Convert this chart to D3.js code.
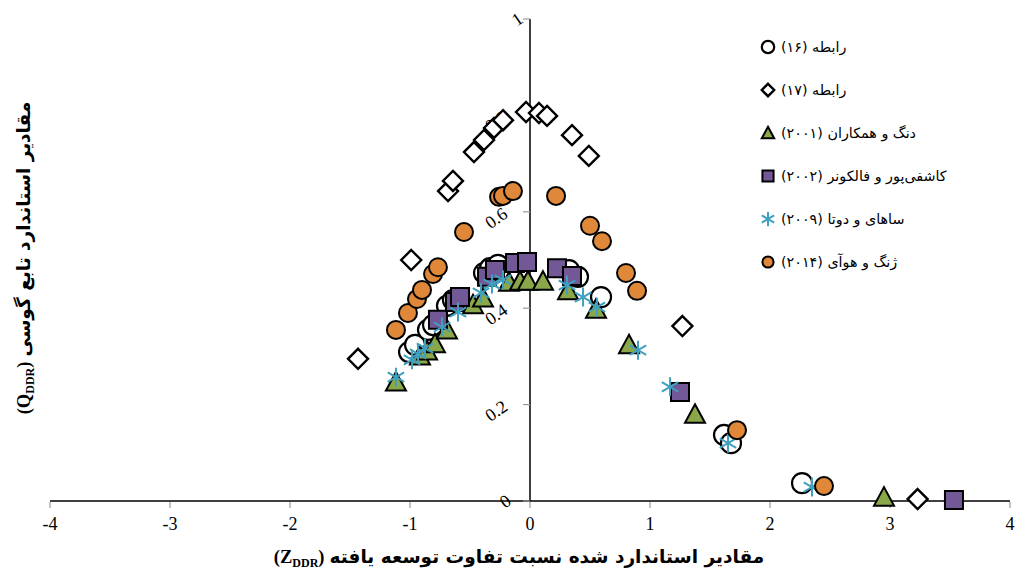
<!DOCTYPE html>
<html>
<head>
<meta charset="utf-8">
<script src="https://cdn.jsdelivr.net/npm/d3@7"></script>
<style>
  html, body { margin: 0; padding: 0; background: #fff; }
  svg { display: block; }
  .fa { font-family: "DejaVu Sans", "Noto Sans", sans-serif; }
  .num { font-family: "Liberation Serif", "DejaVu Serif", serif; }
</style>
</head>
<body>
<svg id="chart" width="1016" height="572"></svg>
<script>
// Standardized developed-discharge-ratio (Z) vs. Gaussian function (Q)
const eq16 = [
  [-1.008, 0.309], [-0.958, 0.324], [-0.85, 0.355], [-0.808, 0.365], [-0.692, 0.405],
  [-0.642, 0.417], [-0.383, 0.473], [-0.333, 0.483], [-0.267, 0.49], [0.325, 0.479],
  [0.4, 0.465], [0.592, 0.423], [1.617, 0.137], [1.675, 0.12], [2.267, 0.037]
];
const eq17 = [
  [-1.433, 0.295], [-0.99, 0.5], [-0.683, 0.643], [-0.642, 0.664], [-0.467, 0.724],
  [-0.383, 0.749], [-0.3, 0.774], [-0.225, 0.79], [-0.033, 0.807], [0.075, 0.805],
  [0.142, 0.799], [0.35, 0.759], [0.49, 0.716], [1.27, 0.363], [3.23, 0.004]
];
const deng2001 = [
  [-1.117, 0.247], [-0.917, 0.301], [-0.858, 0.311], [-0.792, 0.326], [-0.692, 0.355],
  [-0.475, 0.407], [-0.392, 0.421], [-0.175, 0.454], [-0.083, 0.456], [-0.017, 0.456],
  [0.108, 0.456], [0.317, 0.436], [0.55, 0.398], [0.825, 0.324], [1.375, 0.18], [2.95, 0.008]
];
const kashefipour2002 = [
  [-0.767, 0.376], [-0.625, 0.413], [-0.583, 0.423], [-0.358, 0.465], [-0.292, 0.479],
  [-0.125, 0.494], [-0.025, 0.496], [0.225, 0.483], [0.35, 0.467], [1.25, 0.226], [3.533, 0.002]
];
const sahay2009 = [
  [-1.117, 0.257], [-0.983, 0.293], [-0.933, 0.305], [-0.875, 0.317], [-0.733, 0.361],
  [-0.6, 0.392], [-0.408, 0.432], [-0.317, 0.45], [-0.225, 0.459], [0.308, 0.448],
  [0.442, 0.423], [0.558, 0.402], [0.9, 0.313], [1.167, 0.237], [1.65, 0.12], [2.35, 0.029]
];
const zeng2014 = [
  [-1.117, 0.355], [-1.017, 0.39], [-0.942, 0.419], [-0.9, 0.438], [-0.808, 0.471],
  [-0.767, 0.485], [-0.55, 0.558], [-0.258, 0.631], [-0.225, 0.633], [-0.142, 0.643],
  [0.217, 0.633], [0.5, 0.571], [0.6, 0.539], [0.8, 0.473], [0.892, 0.436],
  [1.725, 0.147], [2.45, 0.031]
];

const seriesNames = [
  "رابطه (۱۶)",
  "رابطه (۱۷)",
  "دنگ و همکاران (۲۰۰۱)",
  "کاشفی‌پور و فالکونر (۲۰۰۲)",
  "ساهای و دوتا (۲۰۰۹)",
  "ژنگ و هوآی (۲۰۱۴)"
];
const xTicks = [-4, -3, -2, -1, 0, 1, 2, 3, 4];
const yTicks = [0, 0.2, 0.4, 0.6, 0.8, 1];
const yTickLabels = ["0", "0.2", "0.4", "0.6", "0.8", "1"];

const svg = d3.select("#chart");
const x = d3.scaleLinear().domain([-4, 4]).range([50, 1010]);
const y = d3.scaleLinear().domain([0, 1]).range([501, 19]);

// Marker styles per series
const styles = [
  { data: eq16, shape: "circle", fill: "#ffffff", stroke: "#000", size: 10, sw: 2.2 },
  { data: eq17, shape: "diamond", fill: "#ffffff", stroke: "#000", size: 10, sw: 2.4 },
  { data: deng2001, shape: "triangle", fill: "#8aa84a", stroke: "#000", size: 10, sw: 2 },
  { data: kashefipour2002, shape: "square", fill: "#735898", stroke: "#000", size: 9, sw: 2 },
  { data: sahay2009, shape: "asterisk", fill: "none", stroke: "#3fa0c0", size: 9.5, sw: 2 },
  { data: zeng2014, shape: "circle", fill: "#e0883a", stroke: "#000", size: 9, sw: 2 }
];

function markerPath(shape, s) {
  switch (shape) {
    case "circle":
      return `M${s},0A${s},${s} 0 1,1 ${-s},0A${s},${s} 0 1,1 ${s},0Z`;
    case "diamond":
      return `M0,${-s}L${s},0L0,${s}L${-s},0Z`;
    case "triangle":
      return `M0,${-s}L${s},${s * 0.85}L${-s},${s * 0.85}Z`;
    case "square":
      return `M${-s},${-s}H${s}V${s}H${-s}Z`;
    case "asterisk": {
      const a = s, c = s * Math.cos(Math.PI / 6), d = s * Math.sin(Math.PI / 6);
      return `M0,${-a}V${a}M${-c},${-d}L${c},${d}M${-c},${d}L${c},${-d}`;
    }
  }
}

// Axes
const gx = svg.append("g").attr("transform", `translate(0,${y(0)})`);
gx.append("line").attr("x1", x(-4)).attr("x2", x(4)).attr("stroke", "#000").attr("stroke-width", 1.5);
gx.selectAll(".xt").data(xTicks).join("line")
  .attr("x1", d => x(d)).attr("x2", d => x(d)).attr("y1", 1).attr("y2", 7)
  .attr("stroke", "#999").attr("stroke-width", 1.2);
gx.selectAll(".xl").data(xTicks).join("text")
  .attr("class", "num")
  .attr("x", d => x(d)).attr("y", 29)
  .attr("text-anchor", "middle").attr("font-size", 18).attr("fill", "#000")
  .text(d => d);

const gy = svg.append("g").attr("transform", `translate(${x(0)},0)`);
gy.append("line").attr("y1", y(0)).attr("y2", y(1)).attr("stroke", "#000").attr("stroke-width", 1.5);
gy.selectAll(".yt").data(yTicks).join("line")
  .attr("x1", -7).attr("x2", 0).attr("y1", d => y(d)).attr("y2", d => y(d))
  .attr("stroke", "#999").attr("stroke-width", 1.2);
gy.selectAll(".yl").data(yTicks).join("text")
  .attr("class", "num")
  .attr("font-size", 18).attr("fill", "#000").attr("text-anchor", "middle")
  .attr("transform", (d, i) => {
    const len = yTickLabels[i].length;
    const dx = len > 1 ? -34 : (d === 0 ? -25 : -13);
    const dy = len > 1 ? 6 : 0;
    return `translate(${dx},${y(d) + dy}) rotate(-35)`;
  })
  .attr("dy", "0.35em")
  .text((d, i) => yTickLabels[i]);

// Data markers
styles.forEach(st => {
  svg.append("g").selectAll("path").data(st.data).join("path")
    .attr("transform", d => `translate(${x(d[0])},${y(d[1])})`)
    .attr("d", markerPath(st.shape, st.size))
    .attr("fill", st.fill).attr("stroke", st.stroke)
    .attr("stroke-width", st.sw).attr("stroke-linejoin", "miter");
});

// Legend
const legend = svg.append("g");
const legendY = [47, 90, 133, 176, 219, 262];
styles.forEach((st, i) => {
  const scale = st.shape === "asterisk" ? 0.75 : 0.62;
  legend.append("path")
    .attr("transform", `translate(768,${legendY[i]})`)
    .attr("d", markerPath(st.shape, st.size * scale))
    .attr("fill", st.fill).attr("stroke", st.stroke).attr("stroke-width", st.sw);
  legend.append("text")
    .attr("class", "fa")
    .attr("x", 781).attr("y", legendY[i])
    .attr("dy", "0.35em")
    .attr("direction", "rtl")
    .attr("text-anchor", "end")
    .attr("font-size", 14.3).attr("fill", "#000")
    .text(seriesNames[i]);
});

// Axis title: Persian phrase followed (to its left) by a symbol with subscript
function axisTitle(g, phrase, sym, center, size) {
  const fa = g.append("text").attr("class", "fa")
    .attr("direction", "rtl").attr("text-anchor", "start")
    .attr("font-size", size).attr("font-weight", "bold").attr("dy", "0.35em")
    .text(phrase);
  const s = g.append("text").attr("class", "num")
    .attr("font-size", size).attr("font-weight", "bold").attr("dy", "0.35em");
  s.append("tspan").text("(" + sym);
  s.append("tspan").attr("font-size", size * 0.65).attr("dy", "4").text("DDR");
  s.append("tspan").attr("dy", "-4").text(")");
  const wf = fa.node().getComputedTextLength();
  const ws = s.node().getComputedTextLength();
  const gap = 5, total = wf + ws + gap;
  const left = center - total / 2;
  s.attr("x", left);
  fa.attr("x", left + total);
}

const xt = svg.append("g").attr("transform", "translate(0,557)");
axisTitle(xt, "مقادیر استاندارد شده نسبت تفاوت توسعه یافته", "Z", 519, 18.5);

const yt = svg.append("g").attr("transform", "translate(24,258) rotate(-90)");
axisTitle(yt, "مقادیر استاندارد تابع گوسی", "Q", 0, 18.5);
</script>
</body>
</html>
